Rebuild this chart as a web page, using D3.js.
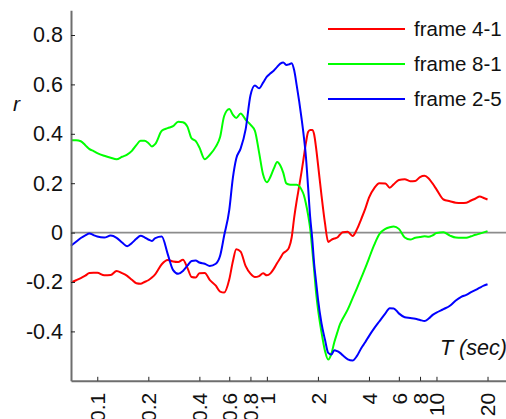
<!DOCTYPE html>
<html>
<head>
<meta charset="utf-8">
<script src="https://cdn.jsdelivr.net/npm/d3@7/dist/d3.min.js"></script>
<style>
  html, body { margin: 0; padding: 0; background: #fff; }
  svg { display: block; }
  text { font-family: "Liberation Sans", Arial, sans-serif; fill: #111; }
</style>
</head>
<body>
<svg id="chart" width="506" height="419"></svg>
<script>
// Period T (sec), shared by all three series
const periods = [0.07,0.075,0.08,0.085,0.09,0.095,0.1,0.11,0.12,0.13,0.14,0.15,0.16,0.17,0.18,0.19,0.2,0.21,
  0.22,0.24,0.26,0.28,0.3,0.32,0.34,0.36,0.38,0.4,0.43,0.46,0.5,0.53,0.56,0.6,0.63,0.66,0.7,0.75,0.8,0.85,0.9,0.95,
  1,1.05,1.1,1.15,1.2,1.25,1.3,1.35,1.4,1.45,1.5,1.55,1.6,1.65,1.7,1.75,1.8,1.85,1.9,1.95,
  2,2.1,2.2,2.3,2.4,2.5,2.6,2.7,2.8,3,3.2,3.4,3.6,3.8,4,4.3,4.6,5,5.3,5.6,6,6.5,7,7.5,8,8.5,9,9.5,
  10,11,12,13,14,15,16,17,18,19,20];

// Correlation r per period
const rFrame41 = [-0.202,-0.193,-0.184,-0.174,-0.164,-0.163,-0.163,-0.173,-0.172,-0.155,-0.164,-0.175,-0.191,-0.205,-0.207,-0.200,-0.193,-0.182,
  -0.168,-0.128,-0.111,-0.117,-0.119,-0.110,-0.143,-0.180,-0.182,-0.165,-0.164,-0.191,-0.215,-0.239,-0.243,-0.190,-0.117,-0.067,-0.077,-0.136,-0.166,-0.180,-0.176,-0.165,
  -0.173,-0.165,-0.146,-0.123,-0.103,-0.083,-0.075,-0.061,-0.020,0.063,0.130,0.187,0.245,0.305,0.364,0.407,0.415,0.415,0.397,0.344,
  0.279,0.150,0.039,-0.038,-0.029,-0.024,-0.020,-0.008,0.001,0.003,-0.014,0.014,0.055,0.096,0.142,0.180,0.200,0.199,0.182,0.196,0.213,0.216,0.208,0.209,0.225,0.230,0.219,0.198,
  0.175,0.134,0.127,0.121,0.120,0.121,0.130,0.138,0.146,0.140,0.134];

const rFrame81 = [0.374,0.374,0.370,0.354,0.338,0.330,0.322,0.311,0.303,0.297,0.307,0.316,0.331,0.354,0.372,0.372,0.363,0.349,
  0.359,0.412,0.423,0.431,0.449,0.447,0.429,0.381,0.371,0.345,0.297,0.314,0.348,0.387,0.472,0.500,0.478,0.464,0.482,0.457,0.437,0.412,0.324,0.235,
  0.204,0.226,0.260,0.286,0.272,0.242,0.200,0.195,0.194,0.194,0.194,0.188,0.174,0.153,0.117,0.072,0.017,-0.065,-0.153,-0.242,
  -0.308,-0.404,-0.478,-0.514,-0.491,-0.443,-0.405,-0.371,-0.349,-0.311,-0.266,-0.225,-0.183,-0.144,-0.104,-0.049,-0.007,0.015,0.022,0.025,0.015,-0.020,-0.028,-0.021,-0.018,-0.015,-0.017,-0.011,
  -0.002,0.001,-0.012,-0.020,-0.021,-0.021,-0.015,-0.009,-0.004,0.001,0.006];

const rFrame25 = [-0.053,-0.037,-0.022,-0.011,-0.004,-0.010,-0.016,-0.020,-0.012,-0.021,-0.040,-0.055,-0.042,-0.025,-0.013,-0.019,-0.028,-0.034,
  -0.022,-0.016,-0.086,-0.152,-0.167,-0.155,-0.134,-0.115,-0.113,-0.121,-0.126,-0.135,-0.126,-0.094,-0.012,0.091,0.221,0.300,0.340,0.419,0.555,0.596,0.584,0.607,
  0.631,0.645,0.656,0.671,0.684,0.689,0.679,0.681,0.686,0.656,0.595,0.532,0.464,0.391,0.305,0.184,0.063,-0.022,-0.126,-0.198,
  -0.267,-0.368,-0.433,-0.487,-0.494,-0.476,-0.480,-0.487,-0.497,-0.513,-0.518,-0.499,-0.468,-0.444,-0.419,-0.387,-0.360,-0.327,-0.306,-0.307,-0.327,-0.343,-0.346,-0.349,-0.354,-0.358,-0.348,-0.333,
  -0.324,-0.310,-0.296,-0.275,-0.260,-0.252,-0.241,-0.232,-0.223,-0.215,-0.209];

const seriesNames = ["frame 4-1", "frame 8-1", "frame 2-5"];
const seriesColors = ["#ff0000", "#00ff00", "#0000ff"];
const seriesValues = [rFrame41, rFrame81, rFrame25];

const xTicks = [0.1, 0.2, 0.4, 0.6, 0.8, 1, 2, 4, 6, 8, 10, 20];
const xTickLabels = ["0.1", "0.2", "0.4", "0.6", "0.8", "1", "2", "4", "6", "8", "10", "20"];
const yTicks = [-0.4, -0.2, 0, 0.2, 0.4, 0.6, 0.8];
const yTickLabels = ["-0.4", "-0.2", "0", "0.2", "0.4", "0.6", "0.8"];

const svg = d3.select("#chart");

const x = d3.scaleLog().domain([0.07, 25.7]).range([71, 506]);
const y = d3.scaleLinear().domain([-0.6, 0.9]).range([380.8, 10.3]);

// zero reference line
svg.append("line")
  .attr("x1", x(0.07)).attr("x2", x(25.7))
  .attr("y1", y(0)).attr("y2", y(0))
  .attr("stroke", "#8c8c8c").attr("stroke-width", 1.6);

// series
const line = d3.line()
  .x(d => x(d[0]))
  .y(d => y(d[1]))
  .curve(d3.curveMonotoneX);

seriesValues.forEach((vals, i) => {
  svg.append("path")
    .datum(periods.map((t, k) => [t, vals[k]]))
    .attr("fill", "none")
    .attr("stroke", seriesColors[i])
    .attr("stroke-width", 2)
    .attr("stroke-linejoin", "round")
    .attr("d", line);
});

// y axis
const yAxis = d3.axisLeft(y)
  .tickValues(yTicks)
  .tickFormat((d, i) => yTickLabels[i])
  .tickSizeInner(-4)
  .tickSizeOuter(0)
  .tickPadding(8);

const gy = svg.append("g").attr("transform", `translate(${x(0.07)},0)`).call(yAxis);
gy.select(".domain").attr("stroke", "#6e6e6e").attr("stroke-width", 2);
gy.selectAll(".tick line").attr("stroke", "#222").attr("stroke-width", 1);
gy.selectAll(".tick text")
  .style("font-family", "'Liberation Sans', Arial, sans-serif")
  .style("font-size", "21.5px")
  .attr("fill", "#111");

// x axis
const xAxis = d3.axisBottom(x)
  .tickValues(xTicks)
  .tickFormat((d, i) => xTickLabels[i])
  .tickSizeInner(-4)
  .tickSizeOuter(0);

const gx = svg.append("g").attr("transform", `translate(0,${y(-0.6)})`).call(xAxis);
gx.select(".domain").attr("stroke", "#6e6e6e").attr("stroke-width", 2);
gx.selectAll(".tick line").attr("stroke", "#222").attr("stroke-width", 1);
gx.selectAll(".tick text")
  .attr("transform", "rotate(-90)")
  .attr("text-anchor", "end")
  .attr("x", -12)
  .attr("y", 0)
  .attr("dy", "0.35em")
  .style("font-family", "'Liberation Sans', Arial, sans-serif")
  .style("font-size", "21px")
  .attr("fill", "#111");

// axis titles
svg.append("text")
  .attr("x", 13).attr("y", 111)
  .style("font-size", "21px").style("font-style", "italic")
  .text("r");

svg.append("text")
  .attr("x", 440).attr("y", 355)
  .style("font-size", "21.5px").style("font-style", "italic")
  .text("T (sec)");

// legend
const legend = svg.append("g").attr("transform", "translate(328,29)");
seriesNames.forEach((name, i) => {
  const g = legend.append("g").attr("transform", `translate(0,${i * 35})`);
  g.append("line")
    .attr("x1", 0).attr("x2", 77).attr("y1", 0).attr("y2", 0)
    .attr("stroke", seriesColors[i]).attr("stroke-width", 2);
  g.append("text")
    .attr("x", 86).attr("y", 7)
    .style("font-size", "20.5px")
    .text(name);
});
</script>
</body>
</html>
